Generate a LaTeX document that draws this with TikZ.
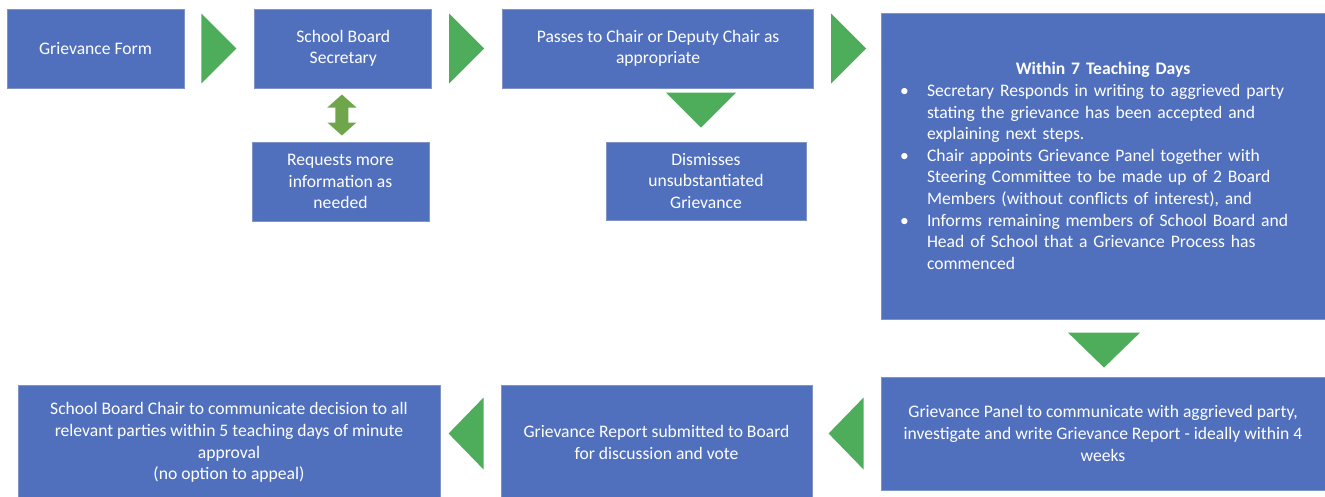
\documentclass[tikz,border=0pt]{standalone}
\usepackage{fontspec}
\setmainfont{Carlito}
\usetikzlibrary{positioning, calc}
\definecolor{boxblue}{HTML}{5070BE}
\definecolor{boxline}{HTML}{8093C9}
\definecolor{flowgreen}{HTML}{4EAD5B}
\definecolor{olivegreen}{HTML}{70A64B}
\newcommand{\bulletline}{\noindent\hangindent=27pt\hangafter=1\makebox[27pt][l]{\textbullet}}

\begin{document}
\begin{tikzpicture}[x=1pt,y=-1pt,node distance=70pt,
  stage/.style={rectangle,draw=boxline,line width=0.8pt,fill=boxblue,text=white,
    align=center,inner sep=4pt,font=\fontsize{17.6}{21.6}\selectfont}]
  \useasboundingbox (0,0) rectangle (1325,496);
  \clip (0,0) rectangle (1325,496);

  \node[stage,minimum width=177,minimum height=79] (form) at (95.5,48.5) {Grievance Form};
  \node[stage,minimum width=177,minimum height=79] (secretary) [right=of form] {School Board\\Secretary};
  \node[stage,minimum width=311,minimum height=79] (passes) [right=of secretary] {Passes to Chair or Deputy Chair as\\appropriate};
  \node[stage,minimum width=177,minimum height=79] (requests) at (340.5,181.5) {Requests more\\information as\\needed};
  \node[stage,minimum width=200,minimum height=78] (dismiss) at (706,181) {Dismisses\\unsubstantiated\\Grievance};
  \node[stage,minimum width=444,minimum height=306,text width=406,inner xsep=19pt,align=left] (teaching) at (1103,166) {%
    {\centering\bfseries Within 7 Teaching Days\par}
    \bulletline Secretary Responds in writing to aggrieved party\newline stating the grievance has been accepted and\newline explaining next steps.\par
    \bulletline Chair appoints Grievance Panel together with\newline Steering Committee to be made up of 2 Board\newline Members (without conflicts of interest), and\par
    \bulletline Informs remaining members of School Board and\newline Head of School that a Grievance Process has\newline commenced\par};
  \node[stage,minimum width=444,minimum height=113] (panel) at (1103,433.5) {Grievance Panel to communicate with aggrieved party,\\investigate and write Grievance Report - ideally within 4\\weeks};
  \node[stage,minimum width=311,minimum height=115] (report) at (656.5,442.5) {Grievance Report submitted to Board\\for discussion and vote};
  \node[stage,minimum width=422,minimum height=115] (chair) at (229,442.5) {School Board Chair to communicate decision to all\\relevant parties within 5 teaching days of minute\\approval\\(no option to appeal)};

  \foreach \a in {form,secretary,passes}
    \fill[flowgreen] ($(\a.east)+(17,-35)$) -- ($(\a.east)+(52,0)$) -- ($(\a.east)+(17,35)$) -- cycle;
  \foreach \a in {panel,report}
    \fill[flowgreen] ($(\a.west|-panel.west)+(-17,-36)$) -- ($(\a.west|-panel.west)+(-52,0)$) -- ($(\a.west|-panel.west)+(-17,36)$) -- cycle;
  \fill[flowgreen] ($(dismiss.north)+(-40,-49)$) -- ($(dismiss.north)+(30,-49)$) -- ($(dismiss.north)+(-5,-14)$) -- cycle;
  \fill[flowgreen] ($(panel.north)+(-35,-44)$) -- ($(panel.north)+(37,-44)$) -- ($(panel.north)+(1,-9)$) -- cycle;

  \coordinate (ask) at ($(secretary.south)!0.5!(requests.north)$);
  \fill[olivegreen] ($(ask)+(0,-20.5)$) -- ++(14.5,13) -- ++(-8,0) -- ++(0,15) -- ++(8,0)
    -- ($(ask)+(0,20.5)$) -- ++(-14.5,-13) -- ++(8,0) -- ++(0,-15) -- ++(-8,0) -- cycle;
\end{tikzpicture}
\end{document}
